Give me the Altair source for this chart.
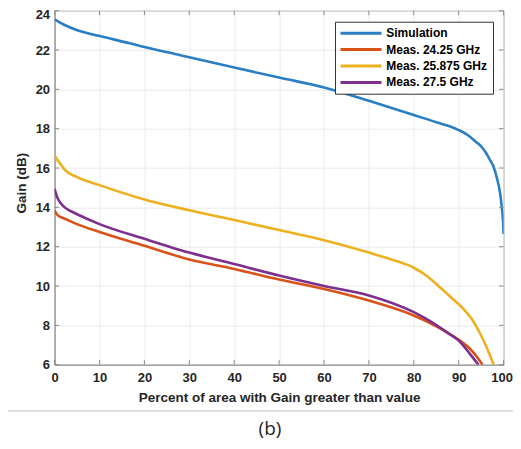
import altair as alt
import pandas as pd

series_names = ["Simulation", "Meas. 24.25 GHz", "Meas. 25.875 GHz", "Meas. 27.5 GHz"]
series_colors = ["#2a7fc4", "#d95319", "#edb120", "#7e2f8e"]

sim_x = [0, 1, 2, 4.9, 10.1, 16.8, 20, 28, 40, 50, 60, 70, 80, 85, 88, 90, 92, 94, 95, 96, 97, 97.7, 98.5, 99.2, 99.6, 99.9, 100]
sim_y = [23.56, 23.42, 23.3, 23.02, 22.71, 22.34, 22.15, 21.74, 21.11, 20.6, 20.1, 19.42, 18.7, 18.33, 18.12, 17.93, 17.68, 17.3, 17.1, 16.8, 16.4, 16.1, 15.5, 14.75, 14.0, 13.2, 12.65]

red_x = [0, 0.5, 1, 2.3, 5, 10, 20, 30, 40, 50, 60, 70, 80, 84.6, 88, 90, 92.5, 94, 95.3]
red_y = [13.83, 13.65, 13.55, 13.42, 13.15, 12.75, 12.05, 11.35, 10.87, 10.33, 9.85, 9.26, 8.5, 8.0, 7.56, 7.27, 6.81, 6.42, 6.0]

yel_x = [0, 0.5, 1, 2.3, 4.9, 10, 20, 30, 40, 50, 60, 70, 75, 80, 83, 86, 89, 91, 93, 94.5, 96, 97, 97.8]
yel_y = [16.65, 16.45, 16.3, 15.9, 15.55, 15.13, 14.4, 13.85, 13.36, 12.85, 12.33, 11.7, 11.35, 10.93, 10.5, 9.9, 9.28, 8.85, 8.3, 7.7, 7.0, 6.45, 6.0]

pur_x = [0, 0.3, 0.7, 1.2, 2, 3.4, 5, 10, 20, 30, 40, 50, 60, 70, 80, 84.6, 88, 90, 92.5, 94.4]
pur_y = [14.94, 14.7, 14.45, 14.26, 14.05, 13.83, 13.65, 13.15, 12.4, 11.7, 11.12, 10.53, 10.0, 9.52, 8.67, 8.08, 7.55, 7.23, 6.55, 6.0]

x_ticks = [0, 10, 20, 30, 40, 50, 60, 70, 80, 90, 100]
y_ticks = [6, 8, 10, 12, 14, 16, 18, 20, 22, 24]

x_title = "Percent of area with Gain greater than value"
y_title = "Gain (dB)"
caption = "(b)"

rows = []
for name, xs, ys in zip(series_names, [sim_x, red_x, yel_x, pur_x], [sim_y, red_y, yel_y, pur_y]):
    for i, (a, b) in enumerate(zip(xs, ys)):
        rows.append({"series": name, "x": a, "y": b, "order": i})
df = pd.DataFrame(rows)

W, H = 449, 354
AXC = "#8a8a8a"
FONT = "Liberation Sans"

xscale = alt.Scale(domain=[0, 100], nice=False, zero=False)
yscale = alt.Scale(domain=[6, 24], nice=False, zero=False)

xaxis = alt.Axis(values=x_ticks, title=x_title, titleX=224.5, titleY=33, titleBaseline="middle",
                 labelPadding=7, labelOverlap=False, labelFlush=False,
                 labelOffset={"condition": {"test": "datum.value == 100", "value": -2}, "value": 0})
yaxis = alt.Axis(values=y_ticks, title=y_title, titleX=-33, titleY=172, titleBaseline="middle",
                 titleAngle=-90, labelPadding=5, labelOverlap=False, labelFlush=False,
                 labelOffset={"condition": {"test": "datum.value == 24", "value": 3.5}, "value": 0})

lines = alt.Chart(df).mark_line(strokeWidth=2.6, interpolate="monotone", clip=True).encode(
    x=alt.X("x:Q", scale=xscale, axis=xaxis),
    y=alt.Y("y:Q", scale=yscale, axis=yaxis),
    color=alt.Color("series:N", scale=alt.Scale(domain=series_names, range=series_colors),
                    sort=series_names,
                    legend=alt.Legend(title=None, orient="none", legendX=280.4, legendY=11,
                                      symbolType="M-1.2,0H7", symbolSize=100, symbolStrokeWidth=3,
                                      labelOffset=33.3, rowPadding=3.4, padding=5,
                                      fillColor="white", strokeColor="#333333",
                                      labelFont=FONT, labelFontWeight="bold", labelFontSize=12,
                                      labelColor="#000000", symbolOpacity=1)),
    order="order:Q",
)

tdx = pd.DataFrame({"t": x_ticks})
tdy = pd.DataFrame({"t": y_ticks})
tick_len = 4.5
xt_bot = alt.Chart(tdx).mark_rule(color=AXC, strokeWidth=1).encode(
    x=alt.X("t:Q", scale=xscale, axis=xaxis), y=alt.value(H), y2=alt.value(H - tick_len))
xt_top = alt.Chart(tdx).mark_rule(color=AXC, strokeWidth=1).encode(
    x=alt.X("t:Q", scale=xscale, axis=xaxis), y=alt.value(0), y2=alt.value(tick_len))
yt_left = alt.Chart(tdy).mark_rule(color=AXC, strokeWidth=1).encode(
    y=alt.Y("t:Q", scale=yscale, axis=yaxis), x=alt.value(0), x2=alt.value(tick_len))
yt_right = alt.Chart(tdy).mark_rule(color=AXC, strokeWidth=1).encode(
    y=alt.Y("t:Q", scale=yscale, axis=yaxis), x=alt.value(W), x2=alt.value(W - tick_len))

sep = alt.Chart(pd.DataFrame({"c": [caption]})).mark_rule(color="#c0c0c0", strokeWidth=1.2).encode(
    x=alt.value(-46.6), x2=alt.value(458.3), y=alt.value(400.3))
cap = alt.Chart(pd.DataFrame({"c": [caption]})).mark_text(
    font="Open Sans", fontSize=19, color="#262626", align="center", baseline="middle").encode(
    text="c:N", x=alt.value(215.4), y=alt.value(418.8))

chart = alt.layer(lines, xt_bot, xt_top, yt_left, yt_right, sep, cap).properties(
    width=W, height=H,
    autosize=alt.AutoSizeParams(type="none"),
    padding={"left": 46.6, "top": 2.7, "right": 9.3, "bottom": 76.3},
).configure_view(stroke=AXC, strokeWidth=1).configure_axis(
    domainColor=AXC, domainWidth=1, grid=True, gridColor="#ebebeb", gridWidth=1,
    ticks=False, tickSize=0,
    labelFont=FONT, labelFontWeight="bold", labelFontSize=13, labelColor="#262626",
    titleFont=FONT, titleFontWeight="bold", titleFontSize=13.5, titleColor="#262626",
).configure_legend(cornerRadius=0, strokeWidth=1)

chart.save("out.html", embed_options={"renderer": "svg", "actions": False})
